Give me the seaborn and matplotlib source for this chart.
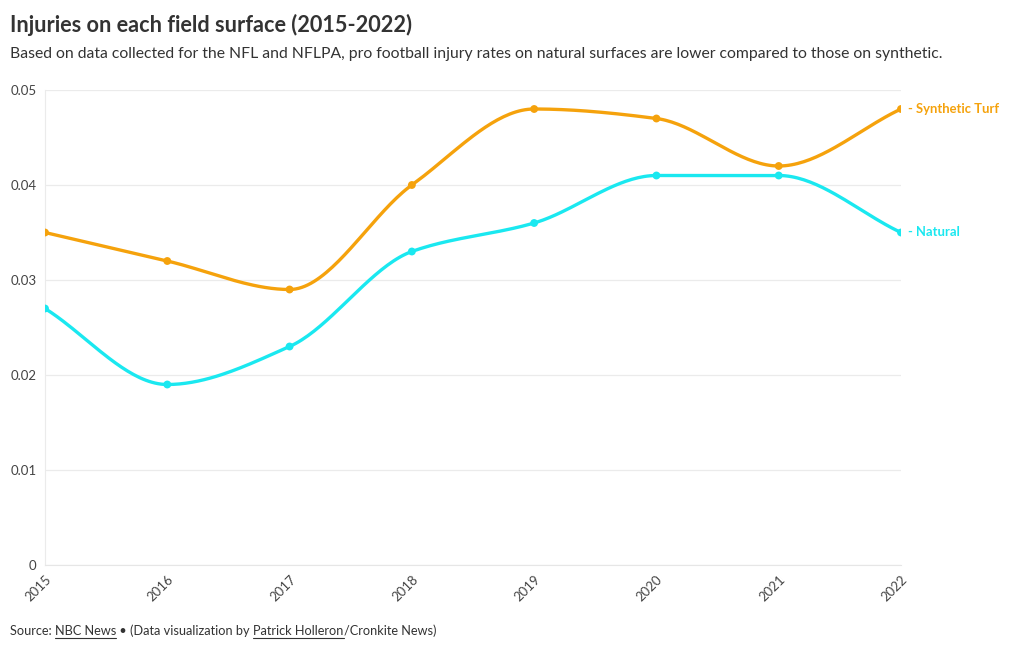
import numpy as np
import pandas as pd
import matplotlib
matplotlib.use("Agg")
import matplotlib.pyplot as plt
import seaborn as sns

# data
years = [2015, 2016, 2017, 2018, 2019, 2020, 2021, 2022]
synthetic = [0.035, 0.032, 0.029, 0.040, 0.048, 0.047, 0.042, 0.048]
natural = [0.027, 0.019, 0.023, 0.033, 0.036, 0.041, 0.041, 0.035]
series_names = ["Synthetic Turf", "Natural"]
colors = {"Synthetic Turf": "#f5a20c", "Natural": "#1ae8f0"}
yticks = [0, 0.01, 0.02, 0.03, 0.04, 0.05]
ytick_labels = ["0", "0.01", "0.02", "0.03", "0.04", "0.05"]

title = "Injuries on each field surface (2015-2022)"
subtitle = ("Based on data collected for the NFL and NFLPA, pro football injury rates "
            "on natural surfaces are lower compared to those on synthetic.")


def monotone_curve(x, y, n=40):
    # monotone cubic (like d3.curveMonotoneX), for the smooth line only
    x = np.asarray(x, float)
    y = np.asarray(y, float)
    h = np.diff(x)
    d = np.diff(y) / h
    m = np.zeros_like(y)
    for i in range(1, len(y) - 1):
        if d[i - 1] * d[i] > 0:
            w1 = 2 * h[i] + h[i - 1]
            w2 = h[i] + 2 * h[i - 1]
            m[i] = (w1 + w2) / (w1 / d[i - 1] + w2 / d[i])
    m[0] = d[0]
    m[-1] = d[-1]
    xs, ys = [], []
    for i in range(len(x) - 1):
        t = np.linspace(0, 1, n, endpoint=(i == len(x) - 2))
        h00 = 2 * t**3 - 3 * t**2 + 1
        h10 = t**3 - 2 * t**2 + t
        h01 = -2 * t**3 + 3 * t**2
        h11 = t**3 - t**2
        xs.append(x[i] + t * h[i])
        ys.append(h00 * y[i] + h10 * h[i] * m[i] + h01 * y[i + 1] + h11 * h[i] * m[i + 1])
    return np.concatenate(xs), np.concatenate(ys)


sns.set_style("white")
plt.rcParams["font.family"] = ["Lato", "DejaVu Sans"]

df = pd.DataFrame({"year": years * 2,
                   "value": synthetic + natural,
                   "surface": [series_names[0]] * len(years) + [series_names[1]] * len(years)})

curves = []
for name in series_names:
    sub = df[df.surface == name]
    cx, cy = monotone_curve(sub.year, sub.value)
    curves.append(pd.DataFrame({"year": cx, "value": cy, "surface": name}))
curve_df = pd.concat(curves)

fig = plt.figure(figsize=(10.2, 6.5), dpi=100)
ax = fig.add_axes([45 / 1020, 1 - 565 / 650, (901 - 45) / 1020, (565 - 90) / 650])

sns.lineplot(data=curve_df, x="year", y="value", hue="surface", palette=colors,
             linewidth=2.4, legend=False, ax=ax, sort=False, estimator=None)
sns.scatterplot(data=df, x="year", y="value", hue="surface", palette=colors,
                s=32, edgecolor="none", legend=False, ax=ax, zorder=5)

ax.set_xlim(years[0], years[-1])
ax.set_ylim(0, 0.05)
ax.set_yticks(yticks)
ax.set_yticklabels(ytick_labels)
ax.set_xticks(years)
ax.set_xticklabels([str(y) for y in years], rotation=45, ha="right", rotation_mode="anchor")
ax.set_xlabel("")
ax.set_ylabel("")
ax.grid(axis="y", color="#ebebeb", linewidth=0.9)
ax.set_axisbelow(True)
for side in ["top", "right"]:
    ax.spines[side].set_visible(False)
ax.spines["left"].set_color("#ebebeb")
ax.spines["bottom"].set_color("#e6e6e6")
ax.tick_params(axis="x", length=4, color="#e0e0e0", labelsize=9.5, labelcolor="#444444", pad=2)
ax.tick_params(axis="y", length=5, color="#e0e0e0", labelsize=9.5, labelcolor="#444444", pad=1)

# end labels
for name, vals in zip(series_names, [synthetic, natural]):
    ax.annotate("- " + name, xy=(years[-1], vals[-1]), xytext=(5, 0),
                textcoords="offset points", va="center", ha="left",
                fontsize=9.4, fontweight="bold", color=colors[name], annotation_clip=False)

fig.text(10 / 1020, 1 - 25 / 650, title, fontsize=15.6, fontweight="bold",
         color="#333333", va="center", ha="left")
fig.text(10 / 1020, 1 - 54 / 650, subtitle, fontsize=11.3, color="#333333",
         va="center", ha="left")

# footer with underlined links
parts = [("Source: ", False), ("NBC News", True), (" \u2022 (Data visualization by ", False),
         ("Patrick Holleron", True), ("/Cronkite News)", False)]
fig.canvas.draw()
renderer = fig.canvas.get_renderer()
x = 10
y_foot = 650 - 631
for txt, underline in parts:
    t = fig.text(x / 1020, y_foot / 650, txt, fontsize=9.2, color="#333333",
                 va="center", ha="left")
    bb = t.get_window_extent(renderer=renderer)
    if underline:
        fig.add_artist(plt.Line2D([bb.x0 / 1020, bb.x1 / 1020],
                                  [(y_foot - 7) / 650] * 2, color="#333333",
                                  linewidth=0.8, transform=fig.transFigure))
    x = bb.x1

fig.savefig("out.png", dpi=100)
